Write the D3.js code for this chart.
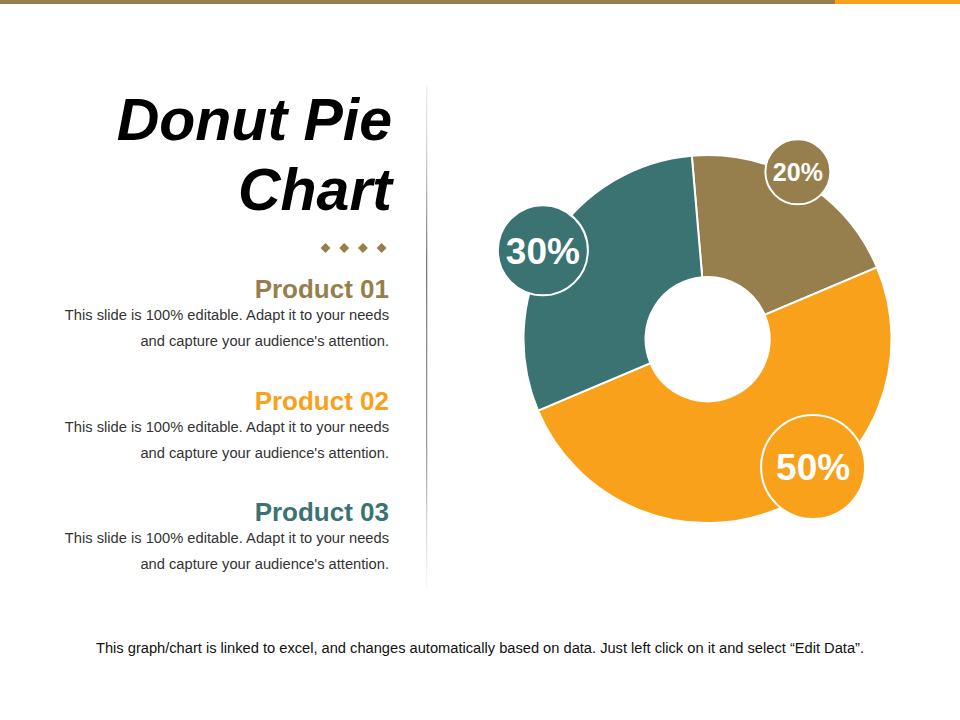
<!DOCTYPE html>
<html>
<head>
<meta charset="utf-8">
<script src="https://cdn.jsdelivr.net/npm/d3@7"></script>
<style>
  body { margin: 0; background: #fff; }
  svg { display: block; font-family: "Liberation Sans", Arial, sans-serif; }
</style>
</head>
<body>
<div id="chart"></div>
<script>
// chart data
var products = ["Product 01", "Product 02", "Product 03"];
var shares = [20, 50, 30];
var blurb = ["This slide is 100% editable. Adapt it to your needs",
             "and capture your audience's attention."];

var svgWidth = 960;
var svgHeight = 720;

var colors = d3.scaleOrdinal()
  .domain(products)
  .range(["#967f4d", "#f9a11b", "#3a7372"]);

var svg = d3.select("#chart")
  .append("svg")
  .attr("width", svgWidth)
  .attr("height", svgHeight);

// top strip
svg.append("rect").attr("x", 0).attr("y", 0).attr("width", 835).attr("height", 4).attr("fill", "#967f4d");
svg.append("rect").attr("x", 835).attr("y", 0).attr("width", 125).attr("height", 4).attr("fill", "#f9a11b");

// divider
var grad = svg.append("defs").append("linearGradient")
  .attr("id", "fade").attr("x1", 0).attr("y1", 0).attr("x2", 0).attr("y2", 1);
grad.append("stop").attr("offset", "0%").attr("stop-color", "#ccc").attr("stop-opacity", 0.3);
grad.append("stop").attr("offset", "35%").attr("stop-color", "#777").attr("stop-opacity", 1);
grad.append("stop").attr("offset", "75%").attr("stop-color", "#999").attr("stop-opacity", 0.9);
grad.append("stop").attr("offset", "100%").attr("stop-color", "#ddd").attr("stop-opacity", 0.2);
svg.append("rect")
  .attr("x", 426).attr("y", 85).attr("width", 1.3).attr("height", 505)
  .attr("fill", "url(#fade)");

// title
var title = svg.append("text")
  .attr("text-anchor", "end")
  .attr("font-size", 59)
  .attr("font-weight", "bold")
  .attr("font-style", "italic")
  .attr("fill", "#000");
title.append("tspan").attr("x", 392).attr("y", 140).text("Donut Pie");
title.append("tspan").attr("x", 392).attr("y", 210).text("Chart");

// diamonds
svg.selectAll(".diamond")
  .data(d3.range(4))
  .enter()
  .append("rect")
  .attr("class", "diamond")
  .attr("x", -3.5).attr("y", -3.5)
  .attr("width", 7).attr("height", 7)
  .attr("fill", "#967f4d")
  .attr("transform", d => `translate(${325.5 + d * 18.7}, ${248}) rotate(45)`);

// product descriptions
var items = svg.selectAll(".item")
  .data(products)
  .enter()
  .append("g")
  .attr("class", "item")
  .attr("transform", (d, i) => `translate(389, ${298 + i * 111.5})`);

items.append("text")
  .attr("text-anchor", "end")
  .attr("font-size", 26)
  .attr("font-weight", "bold")
  .attr("fill", d => colors(d))
  .text(d => d);

items.selectAll(".line")
  .data(blurb)
  .enter()
  .append("text")
  .attr("class", "line")
  .attr("text-anchor", "end")
  .attr("y", (d, i) => 22 + i * 26)
  .attr("font-size", 14.7)
  .attr("fill", "#333")
  .text(d => d);

// donut
var outerR = 184;
var innerR = 62;
var start = -4.9 * Math.PI / 180;

var pie = d3.pie()
  .sort(null)
  .startAngle(start)
  .endAngle(start + 2 * Math.PI);

var arc = d3.arc().innerRadius(innerR).outerRadius(outerR);

var chartGroup = svg.append("g")
  .attr("transform", "translate(707.5, 339)");

var arcs = pie(shares);

chartGroup.selectAll("path")
  .data(arcs)
  .enter()
  .append("path")
  .attr("d", arc)
  .attr("fill", (d, i) => colors(products[i]))
  .attr("stroke", "#fff")
  .attr("stroke-width", 2);

// percentage badges, placed around each slice
var badgeR = [32.5, 52, 45];
var badgeDist = [190, 166, 187];
var badgeShift = [-2.7, -16.6, -2.8];
var badgeFont = [25, 37, 37];

var badges = chartGroup.selectAll(".badge")
  .data(arcs)
  .enter()
  .append("g")
  .attr("class", "badge")
  .attr("transform", function(d, i) {
    var a = (d.startAngle + d.endAngle) / 2 + badgeShift[i] * Math.PI / 180;
    return `translate(${badgeDist[i] * Math.sin(a)}, ${-badgeDist[i] * Math.cos(a)})`;
  });

badges.append("circle")
  .attr("r", (d, i) => badgeR[i])
  .attr("fill", (d, i) => colors(products[i]))
  .attr("stroke", "#fff")
  .attr("stroke-width", 2);

badges.append("text")
  .attr("text-anchor", "middle")
  .attr("dy", "0.36em")
  .attr("font-size", (d, i) => badgeFont[i])
  .attr("font-weight", "bold")
  .attr("fill", "#fff")
  .text(d => d.data + "%");

// footnote
svg.append("text")
  .attr("x", 480)
  .attr("y", 653)
  .attr("text-anchor", "middle")
  .attr("font-family", "'Liberation Sans Narrow', 'Liberation Sans', Arial, sans-serif")
  .attr("font-size", 14)
  .attr("textLength", 768)
  .attr("lengthAdjust", "spacingAndGlyphs")
  .attr("fill", "#111")
  .text("This graph/chart is linked to excel, and changes automatically based on data. Just left click on it and select \u201cEdit Data\u201d.");
</script>
</body>
</html>
